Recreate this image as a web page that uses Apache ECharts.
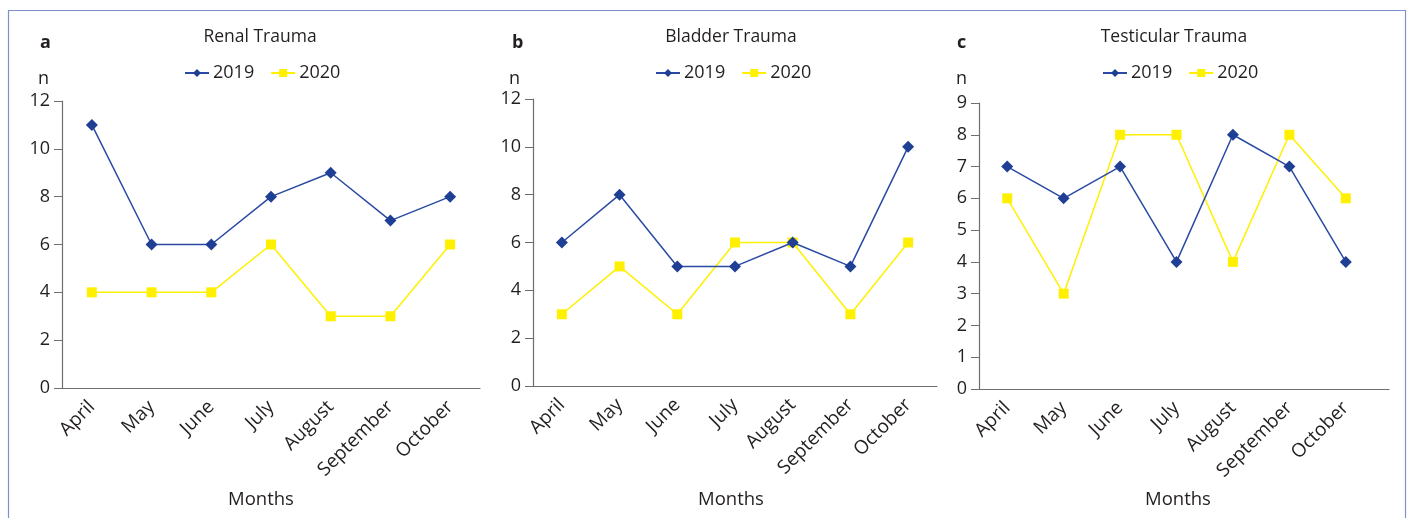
<!DOCTYPE html>
<html>
<head>
<meta charset="utf-8">
<script src="https://cdn.jsdelivr.net/npm/echarts@6/dist/echarts.min.js"></script>
<style>
  html, body { margin: 0; padding: 0; background: #fff; }
  #chart { width: 1410px; height: 518px; }
</style>
</head>
<body>
<div id="chart"></div>
<script>
const months = ['April', 'May', 'June', 'July', 'August', 'September', 'October']

// a - renal
const renal2019 = [11, 6, 6, 8, 9, 7, 8]
const renal2020 = [4, 4, 4, 6, 3, 3, 6]
// b - bladder
const bladder2019 = [6, 8, 5, 5, 6, 5, 10]
const bladder2020 = [3, 5, 3, 6, 6, 3, 6]
// c - testicular
const testis2019 = [7, 6, 7, 4, 8, 7, 4]
const testis2020 = [6, 3, 8, 8, 4, 8, 6]

const panelTitles = ['Renal Trauma', 'Bladder Trauma', 'Testicular Trauma']
const panelLetters = ['a', 'b', 'c']
const yMax = [12, 12, 9]
const yStep = [2, 2, 1]

const FONT = 'Open Sans'
const TXT = '#231f20'
const BLUE = '#1f3f95'
const YELLOW = '#fff000'
const AXIS = '#6d6e71'

// plot boxes in px
const grids = [
  { left: 62, top: 101, width: 418, height: 287 },
  { left: 533, top: 99, width: 404, height: 287 },
  { left: 979, top: 103, width: 395, height: 286 },
]
const titleX = [260, 731, 1174]
const monthsX = [261, 731, 1178]
const legendX = [179, 650, 1097]
const letterX = [40, 512, 957]
const nX = [38, 509, 956]

const chart = echarts.init(document.getElementById('chart'))

const titles = []
panelTitles.forEach((t, i) => {
  titles.push({ text: t, left: titleX[i], top: 28, textAlign: 'center', padding: 0,
    textStyle: { fontFamily: FONT, fontSize: 17.5, fontWeight: 'normal', color: TXT } })
  titles.push({ text: panelLetters[i], left: letterX[i], top: 34, padding: 0,
    textStyle: { fontFamily: FONT, fontSize: 18, fontWeight: 'bold', color: TXT } })
  titles.push({ text: 'n', left: nX[i], top: 70, padding: 0,
    textStyle: { fontFamily: FONT, fontSize: 18, fontWeight: 'normal', color: TXT } })
  titles.push({ text: 'Months', left: monthsX[i], top: 490, textAlign: 'center', padding: 0,
    textStyle: { fontFamily: FONT, fontSize: 18.5, fontWeight: 'normal', color: TXT } })
})

const xAxes = grids.map((g, i) => ({
  type: 'category',
  gridIndex: i,
  data: months,
  boundaryGap: true,
  axisLine: { lineStyle: { color: AXIS, width: 1.2 } },
  axisTick: { show: false },
  axisLabel: { rotate: 45, fontFamily: FONT, fontSize: 19, color: TXT, margin: 16, interval: 0 },
}))

const yAxes = grids.map((g, i) => ({
  type: 'value',
  gridIndex: i,
  min: 0,
  max: yMax[i],
  interval: yStep[i],
  splitLine: { show: false },
  axisLine: { show: true, lineStyle: { color: AXIS, width: 1.2 } },
  axisTick: { show: true, length: 8, lineStyle: { color: AXIS } },
  axisLabel: { fontFamily: FONT, fontSize: 18, color: TXT, margin: 12 },
}))

// panel c: its axis line runs a bit past the last category
grids.push({ left: 979, top: 103, width: 410, height: 286 })
xAxes.push({ type: 'category', gridIndex: 3, data: months,
  axisLine: { lineStyle: { color: AXIS, width: 1.2 } },
  axisTick: { show: false }, axisLabel: { show: false } })
yAxes.push({ type: 'value', gridIndex: 3, show: false, min: 0, max: 9 })

function s19(data, i) {
  return { name: '2019', type: 'line', xAxisIndex: i, yAxisIndex: i, data,
    symbol: 'diamond', symbolSize: 12, color: BLUE, z: 3,
    lineStyle: { color: '#2a4aa3', width: 1.5 }, itemStyle: { color: BLUE } }
}
function s20(data, i) {
  return { name: '2020', type: 'line', xAxisIndex: i, yAxisIndex: i, data,
    symbol: 'rect', symbolSize: 10, color: YELLOW, z: 2,
    lineStyle: { color: YELLOW, width: 1.5 }, itemStyle: { color: YELLOW } }
}

const legends = legendX.map((x) => ({
  data: ['2019', '2020'],
  left: x, top: 59,
  itemWidth: 24, itemHeight: 10, itemGap: 16,
  textStyle: { fontFamily: FONT, fontSize: 18, color: TXT, padding: [0, 0, 0, -1] },
  selectedMode: false,
}))

chart.setOption({
  animation: false,
  title: titles,
  legend: legends,
  grid: grids,
  xAxis: xAxes,
  yAxis: yAxes,
  series: [
    s19(renal2019, 0), s20(renal2020, 0),
    s19(bladder2019, 1), s20(bladder2020, 1),
    s19(testis2019, 2), s20(testis2020, 2),
  ],
  graphic: [{
    type: 'rect', shape: { x: 8.5, y: 10.5, width: 1397, height: 520 },
    style: { fill: 'none', stroke: '#7d92cc', lineWidth: 1.2 }, silent: true,
  }],
})
</script>
</body>
</html>
